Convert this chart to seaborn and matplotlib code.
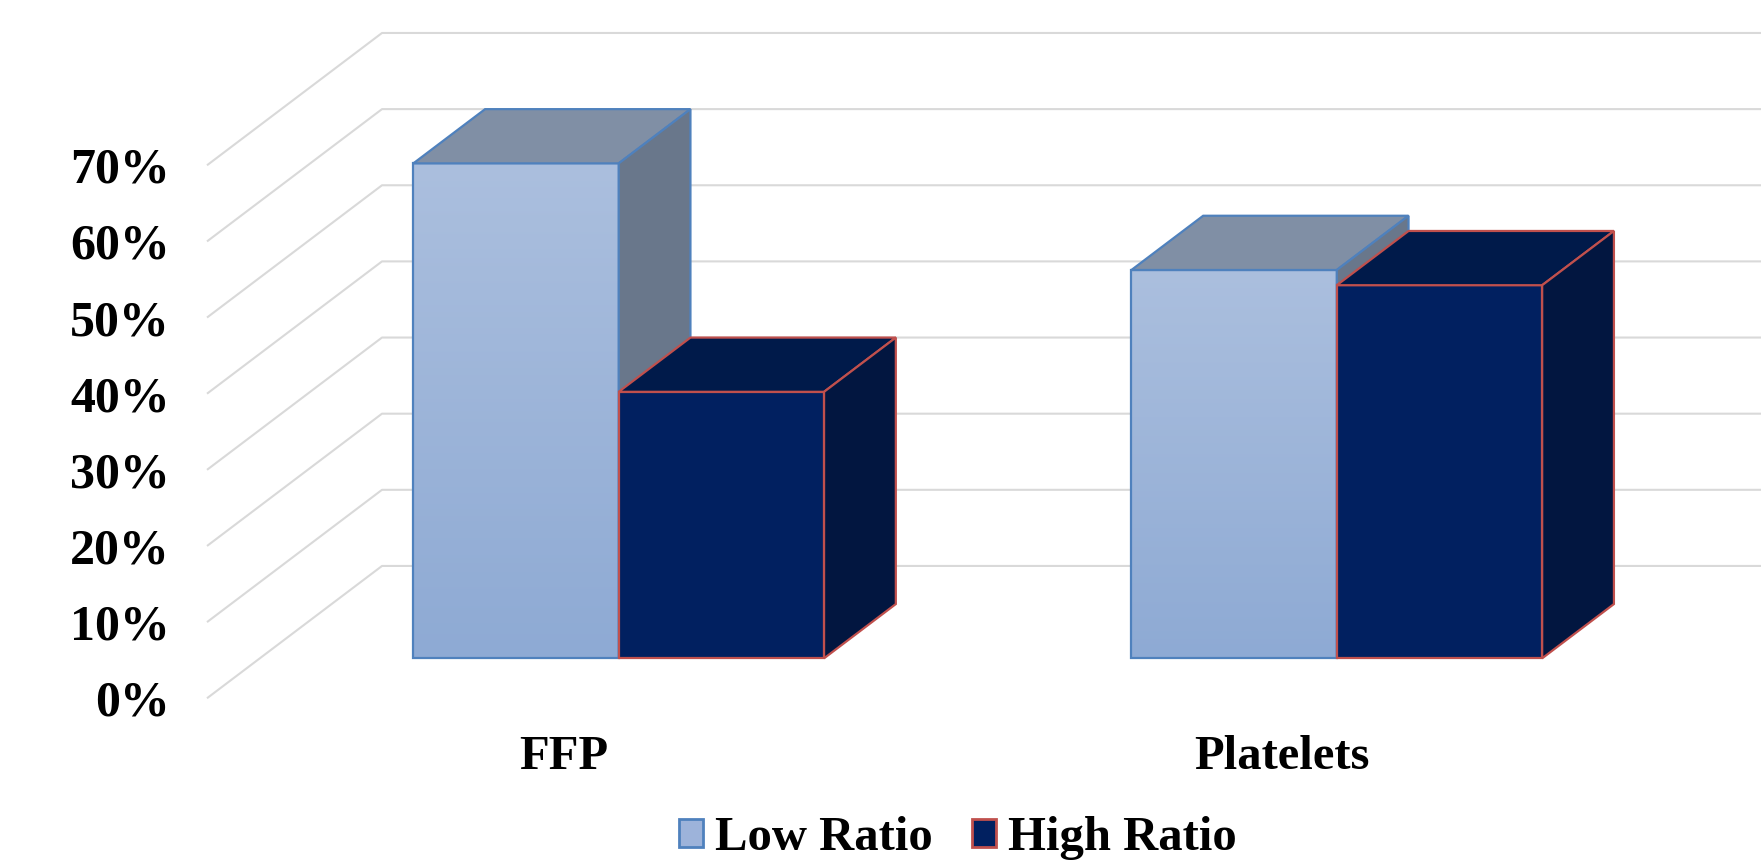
import numpy as np
import pandas as pd
import matplotlib
matplotlib.use("Agg")
import matplotlib.pyplot as plt
import seaborn as sns
from matplotlib.patches import Polygon, Patch
from matplotlib.colors import LinearSegmentedColormap

# ---- data -------------------------------------------------------------
categories = ["FFP", "Platelets"]
series = ["Low Ratio", "High Ratio"]
low_ratio = [65, 51]
high_ratio = [35, 49]
y_ticks = [0, 10, 20, 30, 40, 50, 60, 70]
y_tick_labels = ["0%", "10%", "20%", "30%", "40%", "50%", "60%", "70%"]

df = pd.DataFrame({
    "Product": categories * 2,
    "Group": [series[0]] * len(categories) + [series[1]] * len(categories),
    "Percent": low_ratio + high_ratio,
})

# ---- style ------------------------------------------------------------
LOW_TOP, LOW_BOTTOM = "#abbfde", "#8eaad4"
LOW_LID, LOW_SIDE, LOW_EDGE = "#808fa5", "#69778b", "#4f81bd"
HIGH_FRONT, HIGH_LID, HIGH_SIDE, HIGH_EDGE = "#012060", "#001a4a", "#021640", "#c0504d"
GRID = "#d9d9d9"

sns.set_theme(style="white")
plt.rcParams["font.family"] = ["Liberation Serif", "DejaVu Serif"]
plt.rcParams["font.weight"] = "bold"

W, H = 1761, 863
fig = plt.figure(figsize=(W / 100, H / 100), dpi=100)
fig.patch.set_facecolor("white")
ax = fig.add_axes([0, 0, 1, 1])

# pixel layout of the front plane of the bars
X0_PX, X_SCALE = 618.7, 718.1        # category 0 position, px per category
Y0_PX, Y_SCALE = 658.3, 7.614        # value 0 position (from top), px per percent
XLIM = (-X0_PX / X_SCALE, (W - X0_PX) / X_SCALE)
YLIM = (-(H - Y0_PX) / Y_SCALE, Y0_PX / Y_SCALE)

# oblique depth vector (one full depth of the floor)
DX, DY = 175.0 / X_SCALE, 132.3 / Y_SCALE
Z_FRONT, Z_BAR, Z_WALL = -0.302, 0.41, 0.698
WALL_FRONT_PX = 207.0                # left wall front edge, px
X_WALL = (WALL_FRONT_PX - X0_PX) / X_SCALE - Z_FRONT * DX


def proj(x, y, z):
    return x + z * DX, y + z * DY


# ---- walls and gridlines ---------------------------------------------
for v in y_ticks:
    ax_, ay_ = proj(X_WALL, v, Z_FRONT)
    bx_, by_ = proj(X_WALL, v, Z_WALL)
    ax.plot([ax_, bx_, XLIM[1] + 0.1], [ay_, by_, by_], color=GRID,
            lw=1.5, zorder=0.5, solid_capstyle="butt")

# ---- bars -------------------------------------------------------------
sns.barplot(data=df, x="Product", y="Percent", hue="Group", hue_order=series,
            palette=[LOW_BOTTOM, HIGH_FRONT], width=0.572, gap=0,
            saturation=1, legend=False, ax=ax)

grad = LinearSegmentedColormap.from_list("lowgrad", [LOW_BOTTOM, LOW_TOP])
styles = [
    dict(edge=LOW_EDGE, lid=LOW_LID, side=LOW_SIDE, z=2.0, gradient=True),
    dict(edge=HIGH_EDGE, lid=HIGH_LID, side=HIGH_SIDE, z=3.0, gradient=False),
]

for container, st in zip(ax.containers, styles):
    for p in container.patches:
        x0, w, h = p.get_x(), p.get_width(), p.get_height()
        x1 = x0 + w
        # top face
        lid = [(x0, h), (x1, h), proj(x1, h, Z_BAR), proj(x0, h, Z_BAR)]
        ax.add_patch(Polygon(lid, closed=True, facecolor=st["lid"],
                             edgecolor=st["edge"], lw=1.6, zorder=st["z"] + 0.2,
                             joinstyle="miter"))
        # right side face
        side = [(x1, 0), (x1, h), proj(x1, h, Z_BAR), proj(x1, 0, Z_BAR)]
        ax.add_patch(Polygon(side, closed=True, facecolor=st["side"],
                             edgecolor=st["edge"], lw=1.6, zorder=st["z"] + 0.2,
                             joinstyle="miter"))
        p.set_edgecolor(st["edge"])
        p.set_linewidth(1.6)
        p.set_zorder(st["z"] + 0.1)
        if st["gradient"]:
            p.set_facecolor("none")
            img = ax.imshow(np.linspace(0, 1, 256).reshape(-1, 1), cmap=grad,
                            origin="lower", extent=[x0, x1, 0, h],
                            aspect="auto", interpolation="bilinear",
                            zorder=st["z"])
            img.set_clip_path(p)

ax.set_xlim(*XLIM)
ax.set_ylim(*YLIM)
ax.set_axis_off()

# ---- value axis labels -----------------------------------------------
for v, lab in zip(y_ticks, y_tick_labels):
    lx, ly = proj(X_WALL, v, Z_FRONT)
    ax.text(lx - 37 / X_SCALE, ly, lab, ha="right", va="center_baseline",
            fontsize=36, fontweight="bold", color="black")

# ---- category labels --------------------------------------------------
for i, cat in enumerate(categories):
    ax.text(i - 55 / X_SCALE, (Y0_PX - 752) / Y_SCALE, cat, ha="center",
            va="center_baseline", fontsize=35, fontweight="bold", color="black")

# ---- legend -----------------------------------------------------------
handles = [
    Patch(facecolor="#9db3da", edgecolor=LOW_EDGE, linewidth=2, label=series[0]),
    Patch(facecolor=HIGH_FRONT, edgecolor=HIGH_EDGE, linewidth=2, label=series[1]),
]
fig.legend(handles=handles, loc="center", bbox_to_anchor=(958 / W, 1 - 838 / H),
           ncol=2, frameon=False, prop=dict(size=35, weight="bold"),
           labelcolor="black",
           handlelength=0.49, handleheight=0.51, handletextpad=0.25,
           columnspacing=0.82, borderpad=0)

fig.savefig("out.png", dpi=100, facecolor="white")
